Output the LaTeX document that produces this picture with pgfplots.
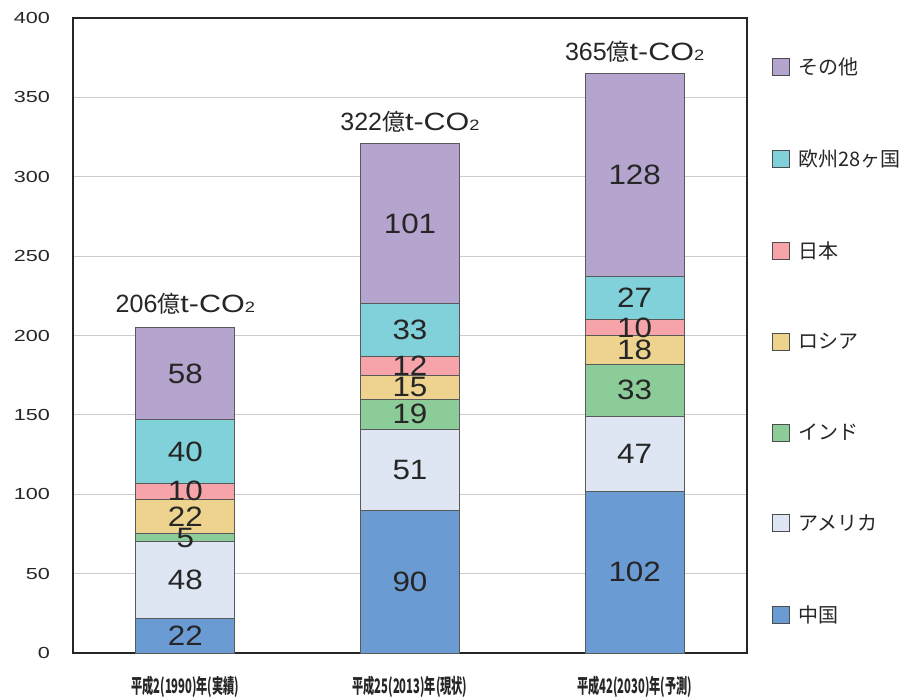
\documentclass[border=0pt]{standalone}
\usepackage{fontspec}
\usepackage{pgfplots}
\pgfplotsset{compat=1.18}
\usepackage{pgfplotstable}
\setmainfont{Liberation Sans}
\newfontfamily\numfont{Liberation Sans}[FakeStretch=1.12]
\newfontfamily\widefont{Liberation Sans}[FakeStretch=1.22]
\newfontfamily\tickfont{Liberation Sans}[FakeStretch=1.35]
\newfontfamily\cjk{Noto Sans CJK JP}
\newfontfamily\cjkn{Noto Sans CJK JP}[FakeStretch=0.56]

\definecolor{cChina}{HTML}{6A9BD3}
\definecolor{cUSA}{HTML}{DEE6F3}
\definecolor{cIndia}{HTML}{8CCC99}
\definecolor{cRussia}{HTML}{EDD38E}
\definecolor{cJapan}{HTML}{F6A4AA}
\definecolor{cEU}{HTML}{80D1D9}
\definecolor{cOther}{HTML}{B4A4CE}

\pgfplotstableread{
x china usa india russia japan eu other
0 22 48 5 22 10 40 58
1 90 51 19 15 12 33 101
2 102 47 33 18 10 27 128
}\datatable

\pgfplotstableread{
x y label
0 11 22
0 46 48
0 72.5 5
0 86 22
0 102 10
0 127 40
0 176 58
1 45 90
1 115.5 51
1 150.5 19
1 167.5 15
1 181 12
1 203.5 33
1 270.5 101
2 51 102
2 125.5 47
2 165.5 33
2 191 18
2 205 10
2 223.5 27
2 301 128
}\labeltable

\newcommand{\tail}{{\fontsize{23}{23}\selectfont\cjk 億}{\widefont t-CO{\fontsize{15}{15}\selectfont 2}}}
\newcommand{\topA}{206\tail}
\newcommand{\topB}{322\tail}
\newcommand{\topC}{365\tail}

\begin{document}
\begin{tikzpicture}
\useasboundingbox (0,0) rectangle (913pt,697pt);
\pgfplotsset{
  base/.style={
    at={(73pt,44pt)}, anchor=south west,
    scale only axis, width=674pt, height=635pt,
    xmin=-0.5, xmax=2.5, ymin=0, ymax=400,
  }
}
\begin{axis}[base,
  ybar stacked, bar width=99pt,
  ytick={0,50,...,400},
  xtick={0,1,2},
  xticklabels={{平成2(1990)年(実績)},{平成25(2013)年(現状)},{平成42(2030)年(予測)}},
  xticklabel style={font=\cjkn\bfseries\fontsize{20}{20}\selectfont, text=black!85, anchor=center, yshift=-34pt},
  yticklabel style={font=\tickfont\fontsize{16}{16}\selectfont, text=black!85, anchor=east, inner sep=0pt, xshift=-23pt},
  /pgf/number format/assume math mode=true,
  major tick length=0pt,
  ymajorgrids, grid style={black!20, line width=1.2pt},
  axis line style={black!85, line width=1.2pt},
  reverse legend,
  legend style={at={(1,1)}, anchor=north west, xshift=22pt, yshift=-36pt,
    draw=none, fill=none, row sep=69.5pt,
    font=\cjk\fontsize{20}{20}\selectfont, text=black!85,
    nodes={inner xsep=8pt}},
  legend cell align=left,
  legend image code/.code={\draw[#1, draw=black!70, line width=0.9pt] (0pt,-8.5pt) rectangle (17pt,8.5pt);},
  every axis plot/.append style={draw=black!65, line width=0.9pt},
]
\addplot[fill=cChina] table[x=x, y=china] {\datatable};
\addplot[fill=cUSA] table[x=x, y=usa] {\datatable};
\addplot[fill=cIndia] table[x=x, y=india] {\datatable};
\addplot[fill=cRussia] table[x=x, y=russia] {\datatable};
\addplot[fill=cJapan] table[x=x, y=japan] {\datatable};
\addplot[fill=cEU] table[x=x, y=eu] {\datatable};
\addplot[fill=cOther] table[x=x, y=other] {\datatable};
\legend{中国, アメリカ, インド, ロシア, 日本, 欧州28ヶ国, その他}
\end{axis}
\begin{axis}[base, hide axis, clip=false]
\addplot[draw=none, mark=none, nodes near coords, point meta=explicit symbolic,
  every node near coord/.style={anchor=center, font=\numfont\fontsize{28}{28}\selectfont, text=black!85}]
  table[x=x, y=y, meta=label] {\labeltable};
\addplot[draw=none, mark=none, nodes near coords, point meta=explicit symbolic,
  every node near coord/.style={anchor=base, yshift=13pt, font=\fontsize{25}{25}\selectfont, text=black!85}]
  coordinates {(0,206) [\topA] (1,321) [\topB] (2,365) [\topC]};
\end{axis}
\end{tikzpicture}
\end{document}
